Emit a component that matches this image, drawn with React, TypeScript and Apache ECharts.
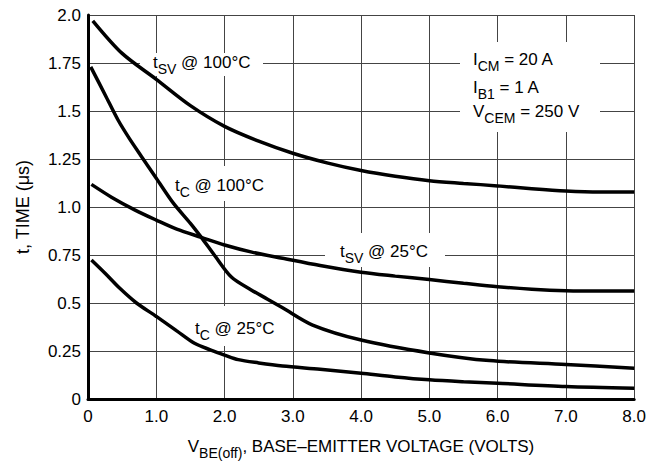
import React, { useEffect, useRef } from "react";
import * as echarts from "echarts";

// x tick labels and y tick labels
const xTickLabels = ["0", "1.0", "2.0", "3.0", "4.0", "5.0", "6.0", "7.0", "8.0"];
const yTickLabels = ["0", "0.25", "0.5", "0.75", "1.0", "1.25", "1.5", "1.75", "2.0"];

// t_sv @ 100°C
const vTsv100 = [0.07, 0.5, 1.0, 1.5, 2.0, 2.5, 3.0, 3.5, 4.0, 4.5, 5.0, 5.5, 6.0, 6.5, 7.0, 7.5, 8.0];
const tTsv100 = [1.97, 1.80, 1.665, 1.528, 1.42, 1.343, 1.28, 1.23, 1.19, 1.16, 1.137, 1.123, 1.11, 1.095, 1.083, 1.078, 1.078];

// t_c @ 100°C
const vTc100 = [0.04, 0.25, 0.44, 0.6, 0.77, 1.0, 1.25, 1.5, 1.66, 1.85, 2.1, 2.39, 2.63, 2.85, 3.29, 4.0, 5.0, 5.88, 7.0, 8.0];
const tTc100 = [1.73, 1.585, 1.453, 1.36, 1.27, 1.15, 1.02, 0.915, 0.842, 0.75, 0.635, 0.568, 0.52, 0.475, 0.385, 0.307, 0.24, 0.2, 0.18, 0.16];

// t_sv @ 25°C
const vTsv25 = [0.05, 0.35, 0.69, 1.0, 1.3, 1.66, 2.0, 2.4, 2.85, 3.4, 4.0, 4.5, 5.0, 5.5, 6.0, 6.5, 7.0, 7.5, 8.0];
const tTsv25 = [1.118, 1.05, 0.984, 0.932, 0.885, 0.842, 0.802, 0.765, 0.733, 0.695, 0.66, 0.64, 0.622, 0.603, 0.585, 0.572, 0.564, 0.562, 0.563];

// t_c @ 25°C
const vTc25 = [0.05, 0.25, 0.47, 0.71, 1.0, 1.3, 1.56, 1.8, 2.0, 2.2, 2.5, 2.85, 3.4, 4.0, 4.5, 5.0, 5.5, 6.0, 7.0, 8.0];
const tTc25 = [0.724, 0.655, 0.575, 0.5, 0.43, 0.355, 0.29, 0.255, 0.229, 0.205, 0.188, 0.172, 0.155, 0.134, 0.115, 0.1, 0.09, 0.082, 0.065, 0.056];

const FONT = "'Liberation Sans', Arial, Helvetica, sans-serif";

const zip = (xs: number[], ys: number[]) => xs.map((x, i) => [x, ys[i]]);

const rich = {
  m: { fontSize: 17, lineHeight: 28, fontFamily: FONT, fill: "#000", color: "#000" },
  s: { fontSize: 14, lineHeight: 13, verticalAlign: "bottom", fontFamily: FONT, fill: "#000", color: "#000" },
  s2: { fontSize: 14, lineHeight: 18, verticalAlign: "bottom", fontFamily: FONT, fill: "#000", color: "#000" },
};

const whiteRect = (x: number, y: number, w: number, h: number) => ({
  type: "rect",
  z: 1,
  shape: { x, y, width: w, height: h },
  style: { fill: "#fff" },
  silent: true,
});

const label = (x: number, y: number, text: string, align = "left") => ({
  type: "text",
  z: 5,
  x,
  y,
  style: {
    text,
    rich,
    align,
    verticalAlign: "middle",
    fontFamily: FONT,
    fill: "#000",
  },
  silent: true,
});

export default function App() {
  const ref = useRef<HTMLDivElement>(null);
  useEffect(() => {
    if (!ref.current) return;
    const chart = echarts.init(ref.current, undefined, { renderer: "svg" });
    const lineSeries = (name: string, data: number[][]) => ({
      name,
      type: "line",
      data,
      smooth: 0.3,
      symbol: "none",
      z: 3,
      lineStyle: { color: "#000", width: 3.5 },
    });
    chart.setOption({
      animation: false,
      backgroundColor: "#fff",
      grid: { left: 88, right: 14, top: 15, bottom: 64, containLabel: false },
      xAxis: {
        type: "value",
        min: 0,
        max: 8,
        interval: 1,
        axisLine: { show: true, onZero: false, lineStyle: { color: "#000", width: 3 } },
        axisTick: { show: false },
        splitLine: { show: true, lineStyle: { color: "#444", width: 1 } },
        axisLabel: {
          margin: 9,
          fontSize: 17,
          fontFamily: FONT,
          color: "#000",
          formatter: (v: number) => xTickLabels[Math.round(v)] ?? "",
        },
      },
      yAxis: {
        type: "value",
        min: 0,
        max: 2,
        interval: 0.25,
        name: "t, TIME (μs)",
        nameLocation: "middle",
        nameGap: 56,
        nameTextStyle: { fontSize: 18, fontFamily: FONT, color: "#000" },
        axisLine: { show: true, onZero: false, lineStyle: { color: "#000", width: 3 } },
        axisTick: { show: false },
        splitLine: { show: true, lineStyle: { color: "#444", width: 1 } },
        axisLabel: {
          margin: 7,
          fontSize: 17,
          fontFamily: FONT,
          color: "#000",
          formatter: (v: number) => yTickLabels[Math.round(v * 4)] ?? "",
        },
      },
      graphic: [
        whiteRect(140, 53, 123, 23),
        whiteRect(168, 166, 104, 35),
        whiteRect(325, 233, 120, 34),
        whiteRect(188, 306, 94, 40),
        whiteRect(460, 42, 140, 90),
        label(153, 62, "{m|t}{s|SV}{m| @ 100°C}"),
        label(175, 185, "{m|t}{s|C}{m| @ 100°C}"),
        label(340, 251, "{m|t}{s|SV}{m| @ 25°C}"),
        label(195, 328, "{m|t}{s|C}{m| @ 25°C}"),
        label(473, 59, "{m|I}{s2|CM}{m| = 20 A}"),
        label(473, 87, "{m|I}{s2|B1}{m| = 1 A}"),
        label(473, 111, "{m|V}{s2|CEM}{m| = 250 V}"),
        label(361, 446, "{m|V}{s|BE(off)}{m|, BASE–EMITTER VOLTAGE (VOLTS)}", "center"),
      ],
      series: [
        lineSeries("tsv100", zip(vTsv100, tTsv100)),
        lineSeries("tc100", zip(vTc100, tTc100)),
        lineSeries("tsv25", zip(vTsv25, tTsv25)),
        lineSeries("tc25", zip(vTc25, tTc25)),
      ],
    });
    return () => chart.dispose();
  }, []);
  return (
    <div
      ref={ref}
      style={{ position: "absolute", left: 0, top: 0, width: 649, height: 463 }}
    />
  );
}
